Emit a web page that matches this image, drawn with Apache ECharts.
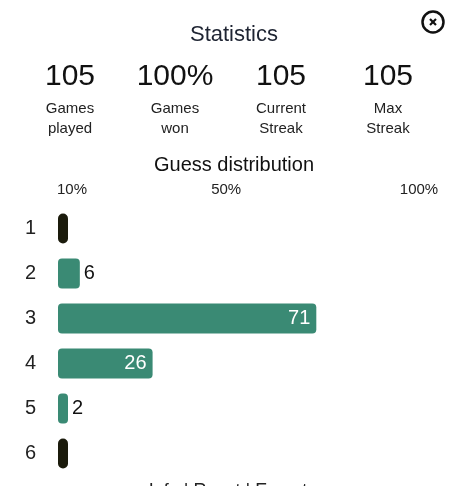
<!DOCTYPE html>
<html>
<head>
    <meta charset="utf-8">
    <title>Statistics</title>
    <script src="https://cdn.jsdelivr.net/npm/echarts@6/dist/echarts.min.js"></script>
    <style>
        html, body { margin: 0; padding: 0; background: #fff; }
    </style>
</head>
<body>
<div id="main" style="width: 468px;height:486px;"></div>
<script type="text/javascript">
    // data
    var guesses = ['1', '2', '3', '4', '5', '6'];
    var counts = [0, 6, 71, 26, 2, 0];
    var gamesPlayed = 105;
    var statValues = ['105', '100%', '105', '105'];
    var statLabels = ['Games\nplayed', 'Games\nwon', 'Current\nStreak', 'Max\nStreak'];
    var pctTicks = [10, 50, 100];

    var FONT = '"Liberation Sans", Arial, sans-serif';
    var TEAL = '#3a8a74';
    var DARK = '#1b1b0c';

    var barData = counts.map(function (v) {
        var inside = v > 20;
        return {
            value: v,
            itemStyle: {
                color: v === 0 ? DARK : TEAL,
                borderRadius: v === 0 ? 5 : 4
            },
            label: {
                show: v > 0,
                position: inside ? 'insideRight' : 'right',
                color: inside ? '#fff' : '#111',
                distance: inside ? 6 : 4
            }
        };
    });

    var statX = [70, 175, 281, 388];
    var graphics = [];
    statValues.forEach(function (s, i) {
        graphics.push({
            type: 'text', x: statX[i], y: 77,
            style: {text: s, font: '30px ' + FONT, fill: '#111', align: 'center', verticalAlign: 'middle'}
        });
        graphics.push({
            type: 'text', x: statX[i], y: 119,
            style: {text: statLabels[i], font: '15px ' + FONT, fill: '#222', align: 'center',
                verticalAlign: 'middle', lineHeight: 20}
        });
    });
    // close button
    graphics.push({
        type: 'circle', shape: {cx: 433, cy: 22, r: 10.5},
        style: {fill: 'none', stroke: '#111', lineWidth: 2.5}
    });
    graphics.push({
        type: 'line', shape: {x1: 430, y1: 19, x2: 436, y2: 25},
        style: {stroke: '#111', lineWidth: 2.2}
    });
    graphics.push({
        type: 'line', shape: {x1: 436, y1: 19, x2: 430, y2: 25},
        style: {stroke: '#111', lineWidth: 2.2}
    });
    // footer, cut off by the window
    graphics.push({
        type: 'text', x: 228, y: 482,
        style: {text: 'Info | Reset | Export', font: '18px ' + FONT, fill: '#222', align: 'center', verticalAlign: 'top'}
    });

    var myChart = echarts.init(document.getElementById('main'), null, {renderer: 'canvas'});

    var option = {
        animation: false,
        title: [
            {
                text: 'Statistics', left: 'center', top: 19,
                textStyle: {fontFamily: FONT, fontSize: 22, fontWeight: 'normal', color: '#1e2432'}
            },
            {
                text: 'Guess distribution', left: 'center', top: 150,
                textStyle: {fontFamily: FONT, fontSize: 20, fontWeight: 'normal', color: '#111'}
            }
        ],
        grid: {left: 58, right: 28, top: 206, height: 270, containLabel: false},
        xAxis: [
            {
                type: 'value', min: 0, max: gamesPlayed,
                show: false
            },
            {
                type: 'value', position: 'top', min: 6.38, max: 105.45,
                axisLine: {show: false}, axisTick: {show: false}, splitLine: {show: false},
                axisLabel: {
                    customValues: pctTicks, formatter: '{value}%', margin: 9,
                    fontFamily: FONT, fontSize: 15, color: '#222'
                }
            }
        ],
        yAxis: {
            type: 'category', data: guesses, inverse: true,
            axisLine: {show: false}, axisTick: {show: false}, splitLine: {show: false},
            axisLabel: {margin: 22, fontFamily: FONT, fontSize: 20, color: '#222'}
        },
        series: [
            {
                type: 'bar', xAxisIndex: 0,
                data: barData,
                barWidth: 30,
                barMinHeight: 10,
                label: {fontFamily: FONT, fontSize: 20}
            }
        ],
        graphic: graphics
    };

    myChart.setOption(option);
</script>
</body>
</html>
